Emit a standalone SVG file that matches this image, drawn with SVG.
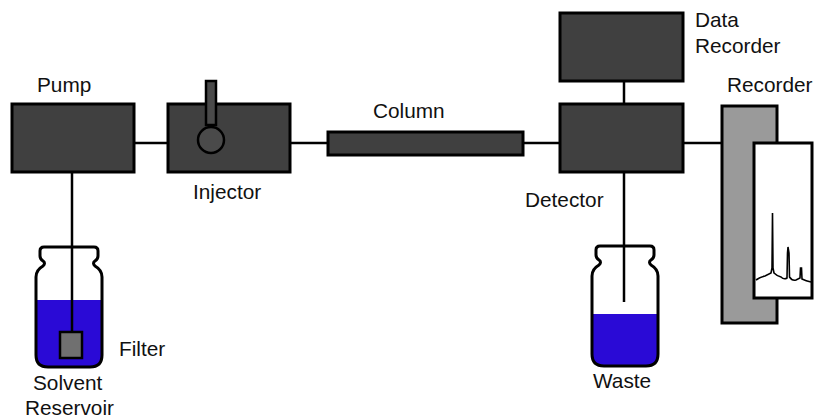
<svg xmlns="http://www.w3.org/2000/svg" xmlns:xlink="http://www.w3.org/1999/xlink" width="814" height="419" viewBox="0 0 814 419">
  <style>
    .box { fill: #404040; stroke: #000; stroke-width: 3; }
    .line { stroke: #000; stroke-width: 2.5; fill: none; }
    .label { font-family: "Liberation Sans", Arial, sans-serif; font-size: 20.8px; fill: #111; }
    .outline { fill: none; stroke: #000; stroke-width: 3; }
    .liquid { fill: #2a0ad6; }
  </style>
  <defs>
    <path id="bottle" d="M44 247 L94 247 Q98 247 98 251 L98 256 Q98 259 95 261 Q92 263 95 266 Q102 270 102 277 L102 355 Q102 367 90 367 L48 367 Q36 367 36 355 L36 277 Q36 270 43 266 Q46 263 43 261 Q40 259 40 256 L40 251 Q40 247 44 247 Z"/>
    <clipPath id="bottleClip"><use xlink:href="#bottle"/></clipPath>
  </defs>

  <rect width="814" height="419" fill="#fff"/>

  <!-- connectors -->
  <g id="connectors">
    <line class="line" x1="134" y1="143" x2="168" y2="143"/>
    <line class="line" x1="290" y1="143" x2="328" y2="143"/>
    <line class="line" x1="523" y1="143" x2="560" y2="143"/>
    <line class="line" x1="683" y1="143" x2="722" y2="143"/>
    <line class="line" x1="624" y1="81" x2="624" y2="104"/>
  </g>

  <!-- solvent reservoir with filter -->
  <g id="reservoir">
    <use xlink:href="#bottle" fill="#fff"/>
    <rect class="liquid" x="30" y="300" width="80" height="80" clip-path="url(#bottleClip)"/>
    <use xlink:href="#bottle" class="outline"/>
    <line class="line" x1="72" y1="172" x2="72" y2="332"/>
    <rect x="60" y="332" width="22" height="26" fill="#707070" stroke="#000" stroke-width="2.5"/>
    <text class="label" x="119" y="356">Filter</text>
    <text class="label" x="33" y="390">Solvent</text>
    <text class="label" x="25" y="415">Reservoir</text>
  </g>

  <!-- pump -->
  <g id="pump">
    <rect class="box" x="12" y="104" width="122" height="68"/>
    <text class="label" x="37" y="92">Pump</text>
  </g>

  <!-- injector -->
  <g id="injector">
    <rect class="box" x="168" y="104" width="122" height="68"/>
    <rect x="206" y="81" width="10" height="44" fill="#4a4a4a" stroke="#000" stroke-width="2.5"/>
    <circle cx="211" cy="140" r="13" fill="#4a4a4a" stroke="#000" stroke-width="2.5"/>
    <text class="label" x="193" y="199">Injector</text>
  </g>

  <!-- column -->
  <g id="column">
    <rect class="box" x="328" y="132" width="195" height="23"/>
    <text class="label" x="373" y="118">Column</text>
  </g>

  <!-- detector -->
  <g id="detector">
    <rect class="box" x="560" y="104" width="123" height="68"/>
    <text class="label" x="525" y="207">Detector</text>
  </g>

  <!-- data recorder -->
  <g id="data-recorder">
    <rect class="box" x="560" y="13" width="123" height="68"/>
    <text class="label" x="695" y="27">Data</text>
    <text class="label" x="695" y="53">Recorder</text>
  </g>

  <!-- waste bottle -->
  <g id="waste">
    <g transform="translate(556,-1)">
      <use xlink:href="#bottle" fill="#fff"/>
      <rect class="liquid" x="30" y="315" width="80" height="70" clip-path="url(#bottleClip)"/>
      <use xlink:href="#bottle" class="outline"/>
    </g>
    <line class="line" x1="624" y1="172" x2="624" y2="302"/>
    <text class="label" x="593" y="388">Waste</text>
  </g>

  <!-- chart recorder -->
  <g id="recorder">
    <rect x="722" y="106" width="55" height="217" fill="#9a9a9a" stroke="#000" stroke-width="3"/>
    <rect x="754" y="143" width="58" height="155" fill="#fff" stroke="#000" stroke-width="3"/>
    <path d="M756 280 Q760 277 765 276 Q769 274 771 273 L772 268 L772.5 213 L773 268 L774 273 Q777 276 781 277 Q784 280 787 278 L787.5 253 L788 247 L789 253 L789.5 277 Q792 281 796 280 L800 278 L800.5 268 L801.5 268 L802 279 Q806 281 811 282" fill="none" stroke="#000" stroke-width="1.6"/>
    <text class="label" x="727" y="92">Recorder</text>
  </g>
</svg>
